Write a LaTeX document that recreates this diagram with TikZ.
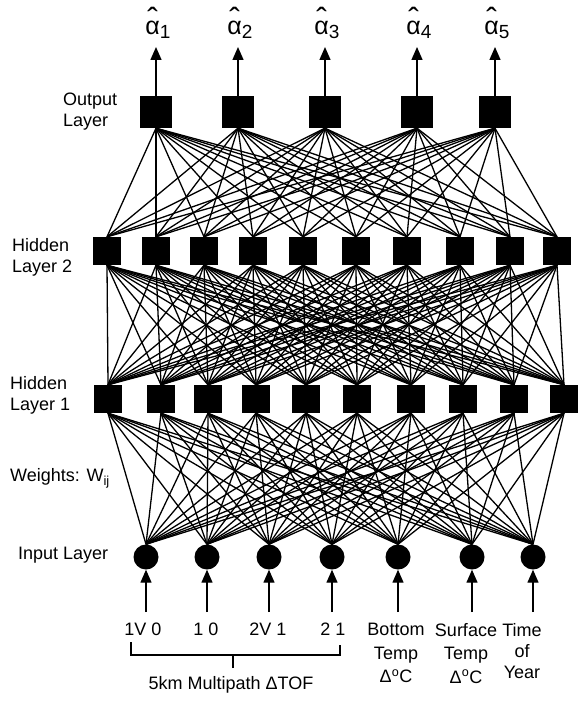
\documentclass[tikz,border=0pt]{standalone}
\usepackage{fontspec}
\setmainfont{Liberation Sans}
\usetikzlibrary{arrows.meta}
\newcommand\ahat[1]{\ooalign{α\cr\hidewidth\raisebox{4pt}{\fontsize{32}{32}\selectfont ˆ}\hidewidth\cr}\raisebox{-4pt}{\fontsize{19}{19}\selectfont #1}}
\tikzset{
  unit/.style={fill=black, minimum size=28pt, inner sep=0pt},
  outunit/.style={unit, minimum size=32pt},
  inunit/.style={circle, fill=black, minimum size=25pt, inner sep=0pt},
  wire/.style={line width=1.3pt},
  feed/.style={line width=1.4pt, -{Triangle[width=11pt,length=13pt]}},
  lbl/.style={font=\fontsize{18}{21}\selectfont, inner sep=0pt},
}
\begin{document}
\begin{tikzpicture}[x=1pt, y=-1pt]
\useasboundingbox (0,0) rectangle (584,709);
% output layer
\foreach \x [count=\i] in {156,238,325,417,495} {
  \node[outunit] (o\i) at (\x,112) {};
  \coordinate (t\i) at (\x,47);
  \node[anchor=base, inner sep=0pt, font=\fontsize{25}{25}\selectfont] (al\i) at (\x+2,35) {\ahat{\i}};
}
% hidden layer 2
\foreach \x [count=\i] in {107,156,204,253,303,356,407,460,510,557}
  \node[unit] (b\i) at (\x,251) {};
% hidden layer 1
\foreach \x [count=\i] in {108,161,208,256,306,357,411,463,514,564}
  \node[unit] (a\i) at (\x,399) {};
% input layer
\foreach \x [count=\i] in {146,207,269,332,398,472,533} {
  \node[inunit] (in\i) at (\x,557) {};
  \coordinate (s\i) at (\x,612);
}

% weights
\foreach \i in {1,...,10} {
  \foreach \j in {1,...,7} \draw[wire] (in\j.north) -- (a\i.south);
  \foreach \j in {1,...,10} \draw[wire] (a\j.north) -- (b\i.south);
  \foreach \j in {1,...,5} \draw[wire] (b\i.north) -- (o\j.south);
}
\foreach \i in {1,...,5} \draw[feed] (o\i.north) -- (t\i);
\foreach \i in {1,...,7} \draw[feed] (s\i) -- (in\i.south);

% layer names
\node[lbl, align=left, anchor=west] (nout) at (63,112) {Output\\Layer};
\node[lbl, align=left, anchor=west] (nh2) at (12,257) {Hidden\\Layer 2};
\node[lbl, align=left, anchor=west] (nh1) at (10,395) {Hidden\\Layer 1};
\node[lbl, anchor=west] (nw) at (10,478) {Weights: W\raisebox{-4pt}{\fontsize{13}{13}\selectfont ij}};
\node[lbl, anchor=west] (nin) at (18,555) {Input Layer};

% input names
\node[lbl, anchor=base] (p1) at (143,635) {1V 0};
\node[lbl, anchor=base] (p2) at (206,635) {1 0};
\node[lbl, anchor=base] (p3) at (268,635) {2V 1};
\node[lbl, anchor=base] (p4) at (333,635) {2 1};
\coordinate (bl) at (131,642);
\coordinate (br) at (340,645);
\coordinate (bm) at (233,668);
\draw[wire] (bl) -- ++(0,13) -| (br);
\draw[wire] (bm) -- ++(0,-13);
\node[lbl] (tof) at (231,685) {5km Multipath ΔTOF};
\node[lbl, align=center, anchor=north, font=\fontsize{18}{23.5}\selectfont] (bt) at (396,623) {Bottom\\Temp\\Δ\textsuperscript{o}C};
\node[lbl, align=center, anchor=north, font=\fontsize{18}{23.5}\selectfont] (st) at (466,623) {Surface\\Temp\\Δ\textsuperscript{o}C};
\node[lbl, align=center, anchor=north] (ty) at (522,623) {Time\\of\\Year};
\end{tikzpicture}
\end{document}
